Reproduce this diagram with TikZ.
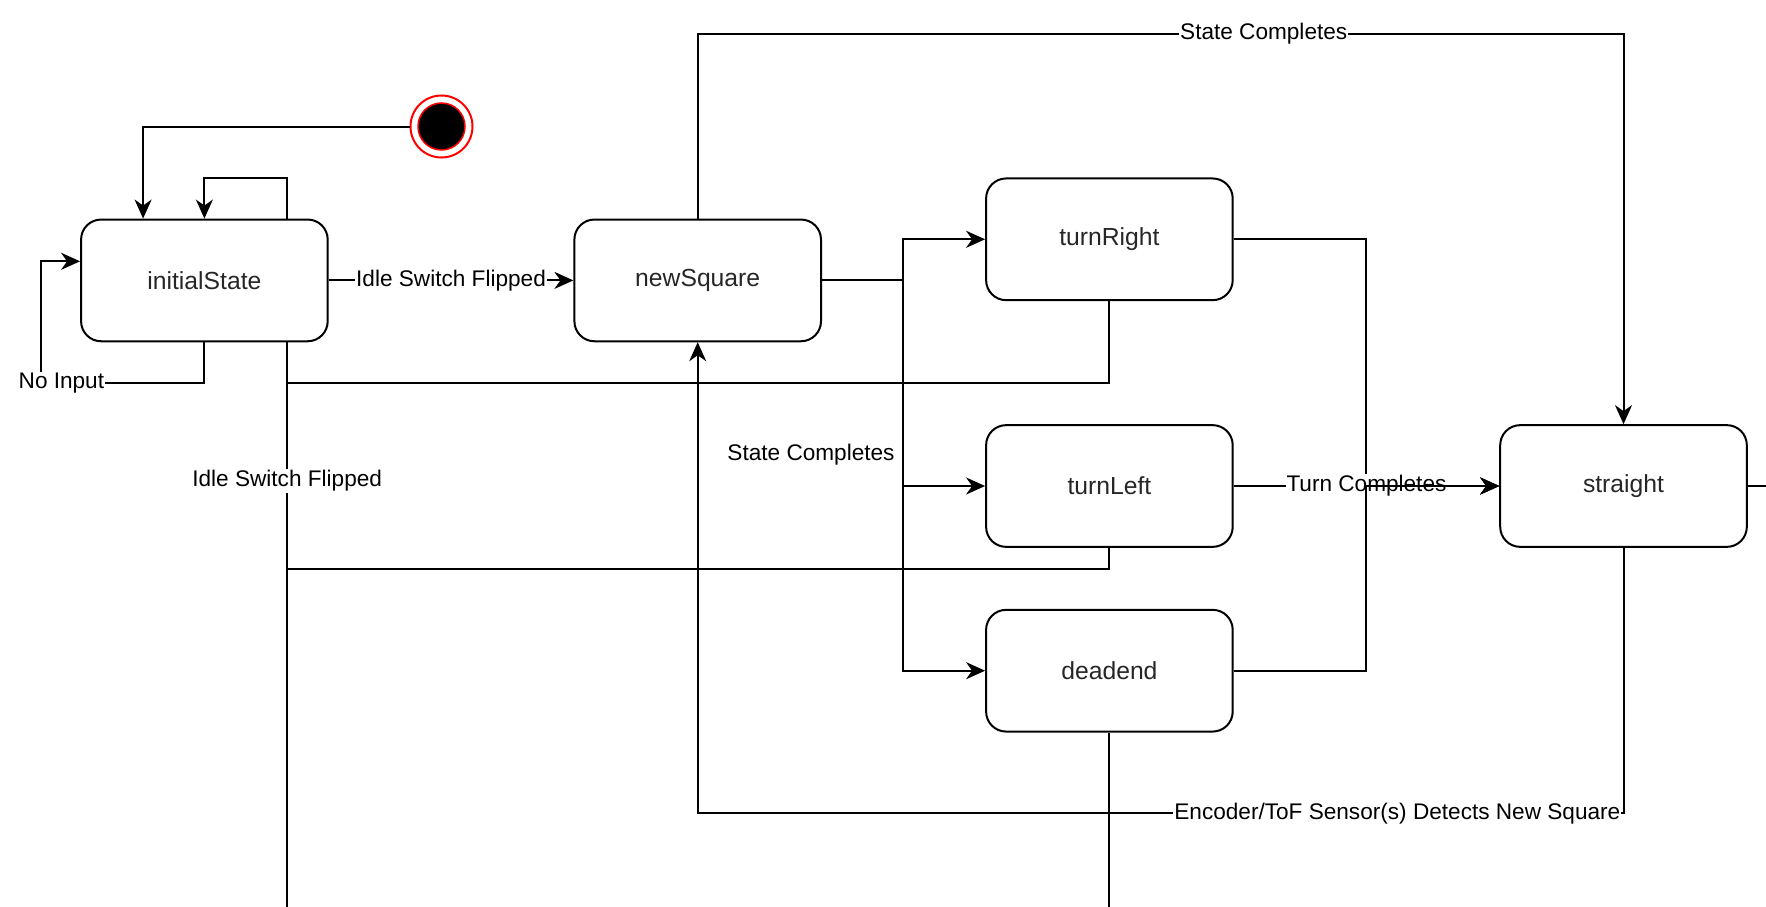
\documentclass[tikz,border=0pt]{standalone}
\usepackage{fontspec}
\setmainfont{Liberation Sans}
\usetikzlibrary{arrows.meta,calc}
\begin{document}
\begin{tikzpicture}[x=1pt,y=-1pt,
  stbox/.style={draw, line width=2pt, rounded corners=20pt, minimum width=246.6pt, minimum height=121.7pt, inner sep=0pt, font=\fontsize{24.7}{30}\selectfont, text=black!85},
  arr/.style={line width=2pt, -{Stealth[length=19pt,width=17pt,inset=6pt]}},
  wire/.style={line width=2pt},
  elab/.style={font=\fontsize{22.6}{27}\selectfont, fill=white, inner sep=1pt}]
\useasboundingbox (0,0) rectangle (1766,907);
% states
\node[stbox] (init) at (204.4,280.4) {initialState};
\node[stbox] (newsq) at (697.7,280.4) {newSquare};
\node[stbox] (turnr) at (1109.4,239.3) {turnRight};
\node[stbox] (turnl) at (1109.4,486) {turnLeft};
\node[stbox] (dead) at (1109.4,670.7) {deadend};
\node[stbox] (straight) at (1623.5,486) {straight};
% initial pseudo state
\node[circle, draw=red, line width=2pt, minimum size=62pt, inner sep=0pt] (start) at (441.5,126.5) {};
\node[circle, fill=black, draw=red, line width=1.5pt, minimum size=47pt, inner sep=0pt] (startin) at (start) {};
% coordinates
\coordinate (b1) at (287.2,907);
\coordinate (j) at (903.3,280.4);
\coordinate (top) at (1623.5,33.8);
\coordinate (bot) at (697.7,813.2);
\coordinate (tj) at (1366.2,486);
\coordinate (rr) at (1766,486);
% start -> init
\draw[arr] (start.west) -| ([xshift=-61.3pt]init.north);
% self loop
\draw[arr] ([xshift=82.8pt]init.north) |- (204.4,178) -- (init.north);
% No input loop
\draw[arr] (init.south) |- (40.5,383) |- ([yshift=19.1pt]init.west);
\node[elab] (lnoin) at (61.4,383) {No Input};
% init -> newSquare
\draw[arr] (init) -- node[elab] {Idle Switch Flipped} (newsq);
% idle switch flipped lines going down
\draw[wire] ([xshift=82.8pt]init.south) -- (b1);
\draw[wire] (turnr.south) |- (287.2,383);
\draw[wire] (turnl.south) |- (287.2,568.8);
\node[elab] (lidle) at (287.2,481) {Idle Switch Flipped};
\draw[wire] (dead.south) -- (dead.south |- b1);
% newSquare fan
\draw[wire] (newsq.east) -- (j);
\draw[arr] (j) |- (turnr.west);
\draw[arr] (j) |- (turnl.west);
\draw[arr] (j) |- (dead.west);
\node[elab] (lsc1) at (811,455) {State Completes};
% newSquare -> straight over top
\draw[arr] (newsq.north) |- (top) -- (straight.north);
\node[elab] (lsc2) at (1263.7,33.8) {State Completes};
% straight -> newSquare
\draw[arr] (straight.south) |- (bot) -- (newsq.south);
\node[elab, anchor=east] (lenc) at (1621.5,813.2) {Encoder/ToF Sensor(s) Detects New Square};
% turns -> straight
\draw[arr] (turnr.east) -| (tj) -- (straight.west);
\draw[arr] (turnl) -- node[elab] {Turn Completes} (straight);
\draw[arr] (dead.east) -| (tj) -- (straight.west);
% straight exit
\draw[wire] (straight.east) -- (rr);
\end{tikzpicture}
\end{document}
